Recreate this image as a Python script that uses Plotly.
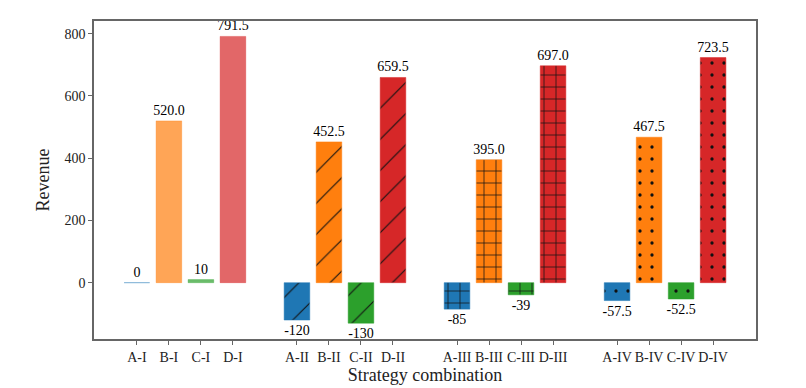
import plotly.graph_objects as pgo

# strategy combinations, four groups of four
labels = ["A-I", "B-I", "C-I", "D-I",
          "A-II", "B-II", "C-II", "D-II",
          "A-III", "B-III", "C-III", "D-III",
          "A-IV", "B-IV", "C-IV", "D-IV"]
xpos = [0, 1, 2, 3, 5, 6, 7, 8, 10, 11, 12, 13, 15, 16, 17, 18]
revenue = [0, 520.0, 10, 791.5,
           -120, 452.5, -130, 659.5,
           -85, 395.0, -39, 697.0,
           -57.5, 467.5, -52.5, 723.5]
valtext = ["0", "520.0", "10", "791.5",
           "-120", "452.5", "-130", "659.5",
           "-85", "395.0", "-39", "697.0",
           "-57.5", "467.5", "-52.5", "723.5"]

light = ["rgba(31,119,180,0.7)", "rgba(255,127,14,0.7)",
         "rgba(44,160,44,0.7)", "rgba(214,39,40,0.7)"]
solid = ["#1f77b4", "#ff7f0e", "#2ca02c", "#d62728"]
colors = light + solid * 3
shapes = [""] * 4 + ["/"] * 4 + ["+"] * 4 + ["."] * 4
sizes = [8] * 4 + [22] * 4 + [12] * 4 + [12] * 4
solidity = [0.2] * 4 + [0.05] * 4 + [0.12] * 4 + [0.06] * 4

fig = pgo.Figure()

for i in range(len(labels)):
    fig.add_trace(
        pgo.Bar(x=[xpos[i]], y=[revenue[i]], width=0.8, text=[valtext[i]],
                textposition="outside", cliponaxis=False,
                constraintext="none", name=labels[i],
                textfont=dict(size=14, color="black"),
                marker=dict(color=colors[i],
                            line=dict(color=colors[i], width=0.5),
                            pattern=dict(shape=shapes[i], fillmode="replace",
                                         bgcolor=colors[i], fgcolor="#111",
                                         fgopacity=1, size=sizes[i],
                                         solidity=solidity[i])))
    )

axis_style = dict(showline=True, linecolor="#666", linewidth=1.5, mirror=True,
                  ticks="outside", tickcolor="#666", ticklen=4,
                  showgrid=False, zeroline=False, tickangle=0,
                  tickfont=dict(size=14, color="#222"))

# page body adds an 8px offset, so the figure is a bit smaller than the window
fig.update_layout(
    width=798, height=380,
    margin=dict(l=86, r=50, t=11, b=47),
    plot_bgcolor="white", paper_bgcolor="white",
    font=dict(family="Liberation Serif, Times New Roman, serif", color="#222"),
    showlegend=False, barmode="overlay",
    xaxis=dict(range=[-1.34, 19.34], tickvals=xpos, ticktext=labels,
               title=dict(text="Strategy combination", font=dict(size=18),
                          standoff=0),
               **axis_style),
    yaxis=dict(range=[-181, 841], tickvals=[0, 200, 400, 600, 800],
               title=dict(text="Revenue", font=dict(size=18), standoff=10),
               **axis_style),
)

fig.write_html("out.html")
